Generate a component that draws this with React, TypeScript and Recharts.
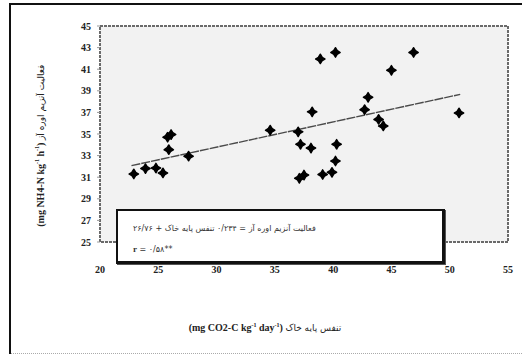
import React from "react";
import {
  ComposedChart,
  Scatter,
  XAxis,
  YAxis,
  ReferenceArea,
  ReferenceLine,
} from "recharts";

const respiration = [
  22.9, 23.9, 24.8, 25.4, 25.8, 26.1, 25.9, 27.6, 34.6, 37.0, 37.2, 38.1, 38.2, 37.1,
  37.5, 38.9, 40.2, 39.1, 39.9, 40.3, 40.2, 42.7, 43.0, 43.9, 44.3, 45.0, 46.9, 50.8,
];
const urease = [
  31.3, 31.8, 31.85, 31.4, 34.7, 34.95, 33.55, 32.95, 35.35, 35.2, 34.05, 33.7, 37.05, 30.9,
  31.2, 41.95, 42.55, 31.25, 31.45, 34.05, 32.5, 37.25, 38.4, 36.35, 35.75, 40.9, 42.55, 36.95,
];
const xTicks = [20, 25, 30, 35, 40, 45, 50, 55];
const yTicks = [25, 27, 29, 31, 33, 35, 37, 39, 41, 43, 45];
const trendSlope = 0.234;
const trendIntercept = 26.76;
const trendRange = [22.7, 50.9];

const points = respiration.map((x, i) => ({ x, y: urease[i] }));
const trendSegment = trendRange.map((x) => ({ x, y: trendIntercept + trendSlope * x }));

const tickFont = {
  fontFamily: "Liberation Serif, serif",
  fontSize: 10,
  fontWeight: 700,
  fill: "#222",
};

const Diamond = (props: any) => {
  const { cx, cy } = props;
  const r = 4.6;
  return (
    <path
      d={`M${cx},${cy - r} Q${cx + 1.2},${cy - 1.2} ${cx + r},${cy} Q${cx + 1.2},${cy + 1.2} ${cx},${cy + r} Q${cx - 1.2},${cy + 1.2} ${cx - r},${cy} Q${cx - 1.2},${cy - 1.2} ${cx},${cy - r}Z`}
      fill="#000"
      stroke="#000"
      strokeWidth={1.6}
      strokeLinejoin="round"
    />
  );
};

const persian = {
  fontFamily: "DejaVu Sans, sans-serif",
  fontWeight: 400,
  fontSize: 8,
} as const;

const Rtl = ({ children }: { children: React.ReactNode }) => (
  <span dir="rtl" style={{ ...persian, display: "inline-block", whiteSpace: "nowrap" }}>
    {children}
  </span>
);

export default function App() {
  return (
    <div
      style={{
        position: "absolute",
        left: 0,
        top: 0,
        width: 522,
        height: 356,
        background: "#fff",
        overflow: "hidden",
      }}
    >
      <div style={{ position: "absolute", left: 9, top: 3, width: 2, height: 351, background: "#111" }} />
      <div style={{ position: "absolute", left: 9, top: 3, width: 513, height: 2, background: "#111" }} />
      <div
        style={{
          position: "absolute",
          left: 11,
          top: 353,
          width: 511,
          height: 0,
          borderTop: "1px dotted #aaa",
        }}
      />
      <div style={{ position: "absolute", left: 0, top: 0 }}>
        <ComposedChart
          width={522}
          height={356}
          margin={{ top: 26, right: 14, bottom: 84, left: 0 }}
        >
          <ReferenceArea
            x1={20}
            x2={55}
            y1={25}
            y2={45}
            fill="#f2f2f2"
            fillOpacity={1}
            stroke="#6a6a6a"
            strokeWidth={2}
            strokeDasharray="3 1"
          />
          <XAxis
            type="number"
            dataKey="x"
            domain={[20, 55]}
            ticks={xTicks}
            axisLine={false}
            tickLine={false}
            tickSize={0}
            tickMargin={24}
            tick={tickFont}
            interval={0}
            allowDataOverflow
          />
          <YAxis
            type="number"
            dataKey="y"
            domain={[25, 45]}
            ticks={yTicks}
            width={100}
            axisLine={false}
            tickLine={{ stroke: "#999" }}
            tickSize={3}
            tickMargin={6}
            tick={tickFont}
            interval={0}
            allowDataOverflow
          />
          <ReferenceLine
            segment={trendSegment}
            stroke="#4a4a4a"
            strokeWidth={1.4}
            strokeDasharray="9 1"
          />
          <Scatter data={points} dataKey="y" shape={Diamond} isAnimationActive={false} />
        </ComposedChart>
      </div>
      <div
        style={{
          position: "absolute",
          left: 116,
          top: 209,
          width: 329,
          height: 55,
          background: "#fff",
          border: "2px solid #111",
          borderBottomWidth: 3,
          borderRightWidth: 3,
          boxShadow: "1px 1px 0 #555",
          boxSizing: "border-box",
        }}
      >
        <div
          style={{
            position: "absolute",
            left: 15,
            top: 13,
            whiteSpace: "nowrap",
            color: "#333",
            lineHeight: "10px",
            ...persian,
          }}
        >
          <Rtl>۲۶/۷۶</Rtl> + <Rtl>تنفس پایه خاک</Rtl> <Rtl>۰/۲۳۴</Rtl> = <Rtl>فعالیت آنزیم اوره آز</Rtl>
        </div>
        <div
          style={{
            position: "absolute",
            left: 15,
            top: 31,
            whiteSpace: "nowrap",
            color: "#333",
            lineHeight: "10px",
          }}
        >
          <b style={{ fontFamily: "Liberation Serif, serif", fontSize: 9 }}>r</b>
          <span style={persian}> = ۰/۵۸**</span>
        </div>
      </div>
      <div
        dir="ltr"
        style={{
          position: "absolute",
          left: 150,
          top: 322,
          width: 230,
          textAlign: "center",
          fontFamily: "Liberation Serif, serif",
          fontSize: 10,
          fontWeight: 700,
          color: "#222",
          whiteSpace: "nowrap",
        }}
      >
        (mg CO2-C kg<sup style={{ fontSize: 6 }}>-1</sup> day<sup style={{ fontSize: 6 }}>-1</sup>){" "}
        <span style={{ ...persian, fontSize: 9 }}>تنفس پایه خاک</span>
      </div>
      <div
        dir="ltr"
        style={{
          position: "absolute",
          left: 40,
          top: 147,
          width: 240,
          marginLeft: -120,
          marginTop: -7,
          textAlign: "center",
          transform: "rotate(-90deg)",
          fontFamily: "Liberation Serif, serif",
          fontSize: 10,
          fontWeight: 700,
          color: "#222",
          whiteSpace: "nowrap",
        }}
      >
        (mg NH4-N kg<sup style={{ fontSize: 6 }}>-1</sup> h<sup style={{ fontSize: 6 }}>-1</sup>){" "}
        <span style={{ ...persian, fontSize: 9 }}>فعالیت آنزیم اوره آز</span>
      </div>
    </div>
  );
}
